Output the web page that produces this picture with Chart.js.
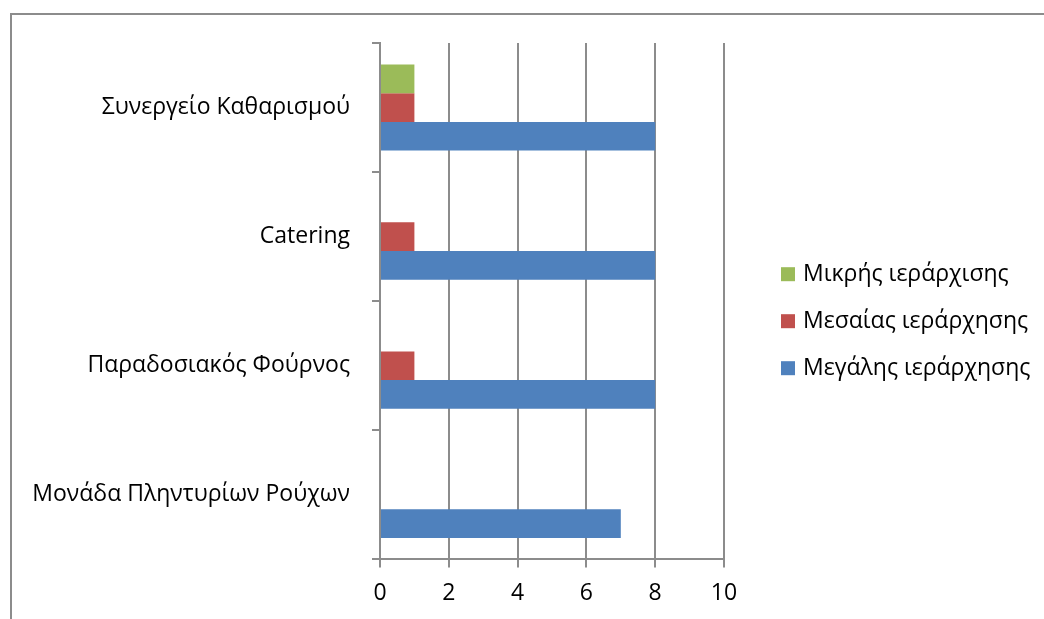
<!DOCTYPE html>
<html>
<head>
<meta charset="utf-8">
<script src="https://cdn.jsdelivr.net/npm/chart.js"></script>
<style>
  body { margin: 0; background: #fff; }
  #frame {
    position: absolute; left: 10px; top: 13px; width: 1034px; height: 606px;
    border-top: 2px solid #8c8c8c; border-left: 2px solid #8c8c8c;
  }
</style>
</head>
<body>
<div id="frame"><canvas id="myChart"></canvas></div>
<script>
  let categories = ["Συνεργείο Καθαρισμού", "Catering", "Παραδοσιακός Φούρνος", "Μονάδα Πληντυρίων Ρούχων"];
  let smallValues = [1, 0, 0, 0];
  let mediumValues = [1, 1, 1, 0];
  let largeValues = [8, 8, 8, 7];
  let seriesNames = ["Μικρής ιεράρχισης", "Μεσαίας ιεράρχησης", "Μεγάλης ιεράρχησης"];
  let xTicks = [0, 2, 4, 6, 8, 10];

  let lineGray = "#8c8c8c";
  let fontFamily = "'Open Sans', 'Noto Sans', sans-serif";

  // the built-in legend gets squeezed to a quarter of the width, so draw our own on the right
  let sideLegend = {
    id: "sideLegend",
    afterDraw(chart) {
      let ctx = chart.ctx;
      let area = chart.chartArea;
      let x = area.right + 57;
      let midY = (area.top + area.bottom) / 2 + 20;
      let step = 47;
      let box = 14;
      ctx.save();
      ctx.font = "23px " + fontFamily;
      ctx.textBaseline = "middle";
      chart.data.datasets.forEach((ds, i) => {
        let y = midY + (i - 1) * step;
        ctx.fillStyle = ds.backgroundColor;
        ctx.fillRect(x, y - box / 2, box, box);
        ctx.fillStyle = "#000";
        ctx.fillText(ds.label, x + box + 8, y);
      });
      ctx.restore();
    }
  };

  new Chart("myChart", {
    type: "bar",
    data: {
      labels: categories,
      datasets: [
        { label: seriesNames[0], data: smallValues, backgroundColor: "#9bbb59" },
        { label: seriesNames[1], data: mediumValues, backgroundColor: "#c0504d" },
        { label: seriesNames[2], data: largeValues, backgroundColor: "#4f81bd" }
      ]
    },
    plugins: [sideLegend],
    options: {
      indexAxis: "y",
      responsive: true,
      maintainAspectRatio: false,
      animation: false,
      layout: { padding: { top: 28, bottom: 2, left: 0, right: 322 } },
      datasets: {
        bar: { categoryPercentage: 0.667, barPercentage: 1 }
      },
      scales: {
        x: {
          min: xTicks[0],
          max: xTicks[xTicks.length - 1],
          afterBuildTicks: (axis) => { axis.ticks = xTicks.map(v => ({ value: v })); },
          grid: { color: lineGray, lineWidth: 2, tickLength: 8 },
          border: { color: lineGray, width: 2 },
          ticks: { color: "#000", padding: 12, font: { family: fontFamily, size: 23 } }
        },
        y: {
          // keep the long category names from being squeezed, and drop the extra label padding on top
          afterFit: (axis) => {
            axis.width = 368;
            axis.paddingTop = 0;
            axis.paddingBottom = 0;
          },
          grid: { drawOnChartArea: false, color: lineGray, lineWidth: 2, tickLength: 8 },
          border: { color: lineGray, width: 2 },
          ticks: { color: "#000", padding: 22, font: { family: fontFamily, size: 23 } }
        }
      },
      plugins: {
        legend: { display: false },
        tooltip: { enabled: false }
      }
    }
  });
</script>
</body>
</html>
